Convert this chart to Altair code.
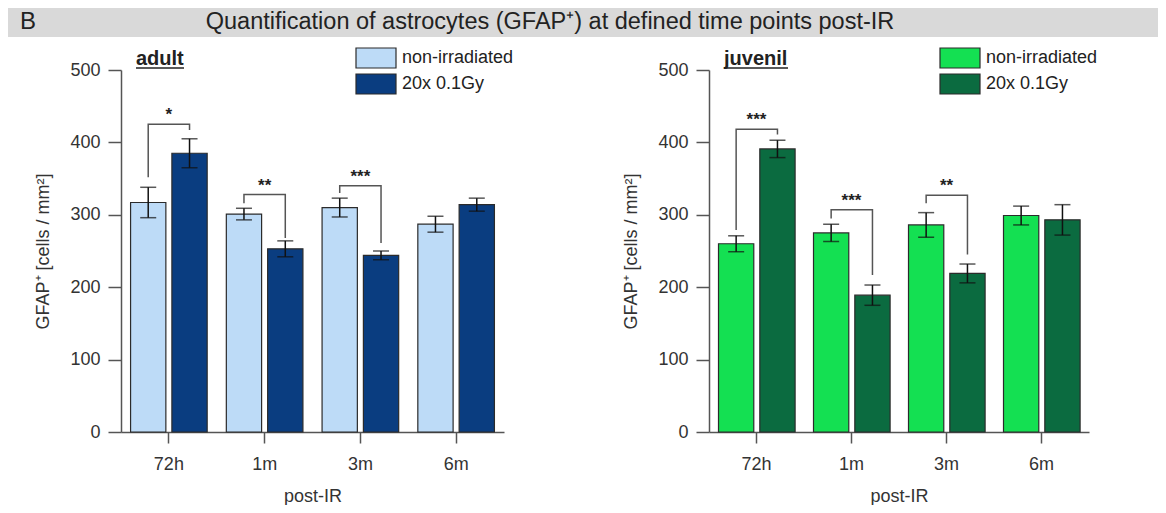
import altair as alt
import pandas as pd

# ---------------- data ----------------
times = ["72h", "1m", "3m", "6m"]
groups = ["non-irradiated", "20x 0.1Gy"]

adult_non = [317, 301, 310, 287]
adult_non_err = [21, 8, 13, 11]
adult_irr = [385, 253, 244, 314]
adult_irr_err = [20, 11, 6, 9]

juv_non = [260, 275, 286, 299]
juv_non_err = [11, 12, 17, 13]
juv_irr = [391, 189, 219, 293]
juv_irr_err = [12, 14, 13, 21]

adult_sig_times = ["72h", "1m", "3m"]
adult_sig_labels = ["*", "**", "***"]
adult_sig_top = [425, 328, 340]
adult_sig_left = [352, 316, 330]
adult_sig_right = [417, 268, 261]

juv_sig_times = ["72h", "1m", "3m"]
juv_sig_labels = ["***", "***", "**"]
juv_sig_top = [418, 307, 327]
juv_sig_left = [279, 295, 316]
juv_sig_right = [411, 217, 245]

adult_colors = ["#bddbf7", "#0a3d80"]
juv_colors = ["#14e052", "#0b6b40"]

header_letter = "B"
header_title = "Quantification of astrocytes (GFAP\u207a) at defined time points post-IR"
y_title = "GFAP\u207a [cells / mm\u00b2]"
x_title = "post-IR"

FONT = "Liberation Sans, Arial, sans-serif"
PLOT_H = 362


def bars_df(non, non_err, irr, irr_err):
    rows = []
    for i, t in enumerate(times):
        rows.append(dict(time=t, group=groups[0], value=non[i],
                         lo=non[i] - non_err[i], hi=non[i] + non_err[i]))
        rows.append(dict(time=t, group=groups[1], value=irr[i],
                         lo=irr[i] - irr_err[i], hi=irr[i] + irr_err[i]))
    return pd.DataFrame(rows)


def sig_df(ts, top, left, right):
    rows = []
    for i, t in enumerate(ts):
        rows.append(dict(time=t, group=groups[0], value=left[i], k=0))
        rows.append(dict(time=t, group=groups[0], value=top[i], k=1))
        rows.append(dict(time=t, group=groups[1], value=top[i], k=2))
        rows.append(dict(time=t, group=groups[1], value=right[i], k=3))
    return pd.DataFrame(rows)


def stars_df(ts, labels, top):
    return pd.DataFrame({"time": ts, "label": labels, "value": top})


def panel(label, label_w, width, colors, bdf, sdf, stdf, legend_x, with_header):
    def X():
        return alt.X("time:N", sort=times,
                     scale=alt.Scale(domain=times, paddingInner=0.2, paddingOuter=0.1),
                     axis=alt.Axis(title=x_title, labelAngle=0, tickSize=11, labelPadding=12,
                                   titleY=64, titleBaseline="middle"))

    def XO():
        return alt.XOffset("group:N", sort=groups,
                           scale=alt.Scale(domain=groups, paddingInner=0.146, paddingOuter=0))

    def Y(field):
        return alt.Y(field, type="quantitative",
                     scale=alt.Scale(domain=[0, 500], nice=False, zero=True),
                     axis=alt.Axis(title=y_title, values=[0, 100, 200, 300, 400, 500],
                                   tickSize=13, labelPadding=8, titleX=-78, titleY=PLOT_H / 2,
                                   titleAngle=270, titleBaseline="middle", titleAlign="center"))

    bars = alt.Chart(bdf).mark_bar(stroke="#2b2b2b", strokeWidth=1.2).encode(
        x=X(), xOffset=XO(), y=Y("value"),
        color=alt.Color("group:N", sort=groups,
                        scale=alt.Scale(domain=groups, range=colors),
                        legend=alt.Legend(title=None, orient="none", legendX=legend_x + 8,
                                          legendY=-23,
                                          symbolType="M-2,-1H2V1H-2Z", symbolSize=400,
                                          symbolStrokeColor="#2b2b2b", symbolStrokeWidth=1.2,
                                          symbolOpacity=1,
                                          labelFont=FONT, labelFontSize=18, labelColor="#222",
                                          labelOffset=15, rowPadding=0, padding=0)),
    )
    err = alt.Chart(bdf).mark_rule(color="#111", strokeWidth=1.5).encode(
        x=X(), xOffset=XO(), y=Y("lo"), y2="hi:Q")
    cap_lo = alt.Chart(bdf).mark_tick(color="#111", size=16, thickness=1.5,
                                      orient="horizontal").encode(x=X(), xOffset=XO(), y=Y("lo"))
    cap_hi = alt.Chart(bdf).mark_tick(color="#111", size=16, thickness=1.5,
                                      orient="horizontal").encode(x=X(), xOffset=XO(), y=Y("hi"))
    brackets = alt.Chart(sdf).mark_line(color="#555", strokeWidth=1.5).encode(
        x=X(), xOffset=XO(), y=Y("value"), detail="time:N", order="k:Q")
    stars = alt.Chart(stdf).mark_text(font=FONT, fontSize=17, fontWeight="bold", color="#222",
                                      dy=-9).encode(x=X(), y=Y("value"), text="label:N")

    tdf = pd.DataFrame({"t": [label]})
    ptitle = alt.Chart(tdf).mark_text(font=FONT, fontSize=20, fontWeight="bold", color="#222",
                                      align="left", baseline="alphabetic").encode(
        x=alt.value(15), y=alt.value(-5), text="t:N")
    uline = alt.Chart(tdf).mark_rule(color="#222", strokeWidth=1.5).encode(
        x=alt.value(15), x2=alt.value(15 + label_w), y=alt.value(-2))

    layers = []
    if with_header:
        hdf = pd.DataFrame({"letter": [header_letter], "title": [header_title]})
        band = alt.Chart(hdf).mark_rect(color="#d9d9d9").encode(
            x=alt.value(-113), x2=alt.value(1037), y=alt.value(-62), y2=alt.value(-33))
        letter = alt.Chart(hdf).mark_text(font=FONT, fontSize=24, color="#222", align="left",
                                          baseline="alphabetic").encode(
            x=alt.value(-101), y=alt.value(-41), text="letter:N")
        htitle = alt.Chart(hdf).mark_text(font=FONT, fontSize=23.5, color="#222", align="center",
                                          baseline="alphabetic").encode(
            x=alt.value(429), y=alt.value(-41), text="title:N")
        layers += [band, letter, htitle]
    layers += [bars, err, cap_lo, cap_hi, brackets, stars, ptitle, uline]
    return alt.layer(*layers).properties(width=width, height=PLOT_H)


left = panel("adult", 48, 383, adult_colors,
             bars_df(adult_non, adult_non_err, adult_irr, adult_irr_err),
             sig_df(adult_sig_times, adult_sig_top, adult_sig_left, adult_sig_right),
             stars_df(adult_sig_times, adult_sig_labels, adult_sig_top),
             236, True)
right = panel("juvenil", 64, 380, juv_colors,
              bars_df(juv_non, juv_non_err, juv_irr, juv_irr_err),
              sig_df(juv_sig_times, juv_sig_top, juv_sig_left, juv_sig_right),
              stars_df(juv_sig_times, juv_sig_labels, juv_sig_top),
              232, False)

chart = alt.hconcat(left, right, spacing=205, bounds="flush").resolve_scale(
    color="independent", x="independent", y="independent"
).properties(padding=0, background="white").configure_view(stroke=None).configure_axis(
    grid=False, domainColor="#555", domainWidth=1.5, tickColor="#555", tickWidth=1.5,
    labelFont=FONT, labelFontSize=18, labelColor="#333",
    titleFont=FONT, titleFontSize=18, titleColor="#333", titleFontWeight="normal",
)

chart.save("out.html", embed_options={"renderer": "svg", "actions": False})
